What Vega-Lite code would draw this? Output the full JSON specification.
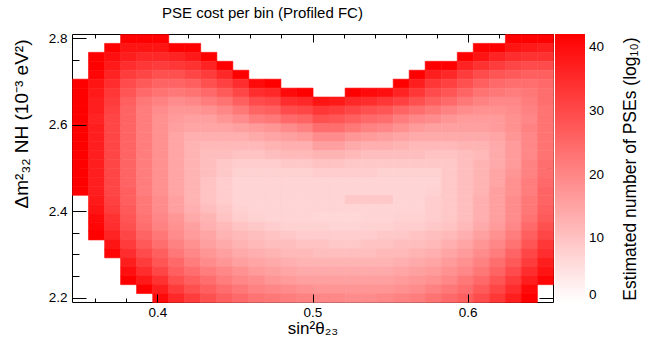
{
"$schema":"https://vega.github.io/schema/vega-lite/v6.json",
"width":481,"height":268,
"autosize":"none",
"padding":{"left":72,"top":34,"right":95,"bottom":42},
"background":"white",
"title":{"text":"PSE cost per bin (Profiled FC)","anchor":"middle","dx":-50,"offset":-2,"baseline":"alphabetic","font":"Liberation Sans","fontSize":15,"fontWeight":"normal","color":"black"},
"config":{"view":{"stroke":"black","strokeWidth":1},"axis":{"domain":false,"grid":false,"tickColor":"black","tickWidth":1,"labelFont":"Liberation Sans","labelFontSize":13.5,"labelColor":"black","titleFont":"Liberation Sans","titleFontSize":17,"titleFontWeight":"normal","titleColor":"black"}},
"layer":[
{"data":{"values":[
{"x":0.376,"y":2.7893,"v":42.1},{"x":0.3863,"y":2.7893,"v":42.1},{"x":0.3967,"y":2.7893,"v":42.1},{"x":0.624,"y":2.7893,"v":42.1},{"x":0.6343,"y":2.7893,"v":42.1},{"x":0.6447,"y":2.7893,"v":42.1},
{"x":0.3657,"y":2.7687,"v":42.1},{"x":0.376,"y":2.7687,"v":38.8},{"x":0.3863,"y":2.7687,"v":38.8},{"x":0.3967,"y":2.7687,"v":38.8},{"x":0.407,"y":2.7687,"v":42.1},{"x":0.4173,"y":2.7687,"v":42.1},{"x":0.6033,"y":2.7687,"v":42.1},{"x":0.6137,"y":2.7687,"v":42.1},{"x":0.624,"y":2.7687,"v":38.8},{"x":0.6343,"y":2.7687,"v":38},{"x":0.6447,"y":2.7687,"v":37.1},
{"x":0.3553,"y":2.748,"v":42.1},{"x":0.3657,"y":2.748,"v":39.6},{"x":0.376,"y":2.748,"v":37.1},{"x":0.3863,"y":2.748,"v":35.5},{"x":0.3967,"y":2.748,"v":35.5},{"x":0.407,"y":2.748,"v":36.3},{"x":0.4173,"y":2.748,"v":38},{"x":0.4277,"y":2.748,"v":42.1},{"x":0.593,"y":2.748,"v":42.1},{"x":0.6033,"y":2.748,"v":38.8},{"x":0.6137,"y":2.748,"v":36.3},{"x":0.624,"y":2.748,"v":34.6},{"x":0.6343,"y":2.748,"v":33.8},{"x":0.6447,"y":2.748,"v":33.8},
{"x":0.3553,"y":2.7273,"v":42.1},{"x":0.3657,"y":2.7273,"v":38},{"x":0.376,"y":2.7273,"v":34.6},{"x":0.3863,"y":2.7273,"v":33},{"x":0.3967,"y":2.7273,"v":32.2},{"x":0.407,"y":2.7273,"v":33},{"x":0.4173,"y":2.7273,"v":33.8},{"x":0.4277,"y":2.7273,"v":36.3},{"x":0.438,"y":2.7273,"v":42.1},{"x":0.5723,"y":2.7273,"v":42.1},{"x":0.5827,"y":2.7273,"v":42.1},{"x":0.593,"y":2.7273,"v":36.3},{"x":0.6033,"y":2.7273,"v":33.8},{"x":0.6137,"y":2.7273,"v":32.2},{"x":0.624,"y":2.7273,"v":30.5},{"x":0.6343,"y":2.7273,"v":29.7},{"x":0.6447,"y":2.7273,"v":29.7},
{"x":0.3553,"y":2.7067,"v":41.2},{"x":0.3657,"y":2.7067,"v":36.3},{"x":0.376,"y":2.7067,"v":32.2},{"x":0.3863,"y":2.7067,"v":30.5},{"x":0.3967,"y":2.7067,"v":28.9},{"x":0.407,"y":2.7067,"v":28.9},{"x":0.4173,"y":2.7067,"v":30.5},{"x":0.4277,"y":2.7067,"v":32.2},{"x":0.438,"y":2.7067,"v":35.5},{"x":0.4483,"y":2.7067,"v":42.1},{"x":0.562,"y":2.7067,"v":42.1},{"x":0.5723,"y":2.7067,"v":37.1},{"x":0.5827,"y":2.7067,"v":35.5},{"x":0.593,"y":2.7067,"v":32.2},{"x":0.6033,"y":2.7067,"v":29.7},{"x":0.6137,"y":2.7067,"v":28},{"x":0.624,"y":2.7067,"v":27.2},{"x":0.6343,"y":2.7067,"v":26.4},{"x":0.6447,"y":2.7067,"v":26.4},
{"x":0.345,"y":2.686,"v":42.1},{"x":0.3553,"y":2.686,"v":38.8},{"x":0.3657,"y":2.686,"v":34.6},{"x":0.376,"y":2.686,"v":29.7},{"x":0.3863,"y":2.686,"v":27.2},{"x":0.3967,"y":2.686,"v":25.6},{"x":0.407,"y":2.686,"v":25.6},{"x":0.4173,"y":2.686,"v":26.4},{"x":0.4277,"y":2.686,"v":28.9},{"x":0.438,"y":2.686,"v":31.3},{"x":0.4483,"y":2.686,"v":34.6},{"x":0.4587,"y":2.686,"v":40.4},{"x":0.469,"y":2.686,"v":42.1},{"x":0.5517,"y":2.686,"v":42.1},{"x":0.562,"y":2.686,"v":37.1},{"x":0.5723,"y":2.686,"v":33},{"x":0.5827,"y":2.686,"v":31.3},{"x":0.593,"y":2.686,"v":28.9},{"x":0.6033,"y":2.686,"v":26.4},{"x":0.6137,"y":2.686,"v":24.7},{"x":0.624,"y":2.686,"v":23.9},{"x":0.6343,"y":2.686,"v":23.9},{"x":0.6447,"y":2.686,"v":24.7},
{"x":0.345,"y":2.6653,"v":42.1},{"x":0.3553,"y":2.6653,"v":38},{"x":0.3657,"y":2.6653,"v":33},{"x":0.376,"y":2.6653,"v":28},{"x":0.3863,"y":2.6653,"v":24.7},{"x":0.3967,"y":2.6653,"v":23.1},{"x":0.407,"y":2.6653,"v":22.3},{"x":0.4173,"y":2.6653,"v":23.1},{"x":0.4277,"y":2.6653,"v":24.7},{"x":0.438,"y":2.6653,"v":27.2},{"x":0.4483,"y":2.6653,"v":30.5},{"x":0.4587,"y":2.6653,"v":34.6},{"x":0.469,"y":2.6653,"v":35.5},{"x":0.4793,"y":2.6653,"v":40.4},{"x":0.4897,"y":2.6653,"v":42.1},{"x":0.5207,"y":2.6653,"v":42.1},{"x":0.531,"y":2.6653,"v":40.4},{"x":0.5413,"y":2.6653,"v":39.6},{"x":0.5517,"y":2.6653,"v":36.3},{"x":0.562,"y":2.6653,"v":33},{"x":0.5723,"y":2.6653,"v":29.7},{"x":0.5827,"y":2.6653,"v":28},{"x":0.593,"y":2.6653,"v":25.6},{"x":0.6033,"y":2.6653,"v":23.1},{"x":0.6137,"y":2.6653,"v":22.3},{"x":0.624,"y":2.6653,"v":21.5},{"x":0.6343,"y":2.6653,"v":22.3},{"x":0.6447,"y":2.6653,"v":23.9},
{"x":0.345,"y":2.6447,"v":42.1},{"x":0.3553,"y":2.6447,"v":37.1},{"x":0.3657,"y":2.6447,"v":32.2},{"x":0.376,"y":2.6447,"v":26.4},{"x":0.3863,"y":2.6447,"v":22.3},{"x":0.3967,"y":2.6447,"v":20.6},{"x":0.407,"y":2.6447,"v":19},{"x":0.4173,"y":2.6447,"v":19.8},{"x":0.4277,"y":2.6447,"v":21.5},{"x":0.438,"y":2.6447,"v":23.1},{"x":0.4483,"y":2.6447,"v":26.4},{"x":0.4587,"y":2.6447,"v":29.7},{"x":0.469,"y":2.6447,"v":30.5},{"x":0.4793,"y":2.6447,"v":34.6},{"x":0.4897,"y":2.6447,"v":35.5},{"x":0.5,"y":2.6447,"v":38.8},{"x":0.5103,"y":2.6447,"v":38},{"x":0.5207,"y":2.6447,"v":35.5},{"x":0.531,"y":2.6447,"v":34.6},{"x":0.5413,"y":2.6447,"v":33},{"x":0.5517,"y":2.6447,"v":31.3},{"x":0.562,"y":2.6447,"v":28.9},{"x":0.5723,"y":2.6447,"v":26.4},{"x":0.5827,"y":2.6447,"v":24.7},{"x":0.593,"y":2.6447,"v":22.3},{"x":0.6033,"y":2.6447,"v":20.6},{"x":0.6137,"y":2.6447,"v":19.8},{"x":0.624,"y":2.6447,"v":19.8},{"x":0.6343,"y":2.6447,"v":21.5},{"x":0.6447,"y":2.6447,"v":23.9},
{"x":0.345,"y":2.624,"v":42.1},{"x":0.3553,"y":2.624,"v":37.1},{"x":0.3657,"y":2.624,"v":31.3},{"x":0.376,"y":2.624,"v":25.6},{"x":0.3863,"y":2.624,"v":21.5},{"x":0.3967,"y":2.624,"v":19},{"x":0.407,"y":2.624,"v":17.3},{"x":0.4173,"y":2.624,"v":17.3},{"x":0.4277,"y":2.624,"v":18.1},{"x":0.438,"y":2.624,"v":19.8},{"x":0.4483,"y":2.624,"v":22.3},{"x":0.4587,"y":2.624,"v":25.6},{"x":0.469,"y":2.624,"v":26.4},{"x":0.4793,"y":2.624,"v":29.7},{"x":0.4897,"y":2.624,"v":30.5},{"x":0.5,"y":2.624,"v":33},{"x":0.5103,"y":2.624,"v":32.2},{"x":0.5207,"y":2.624,"v":30.5},{"x":0.531,"y":2.624,"v":28.9},{"x":0.5413,"y":2.624,"v":28},{"x":0.5517,"y":2.624,"v":25.6},{"x":0.562,"y":2.624,"v":23.9},{"x":0.5723,"y":2.624,"v":22.3},{"x":0.5827,"y":2.624,"v":20.6},{"x":0.593,"y":2.624,"v":19},{"x":0.6033,"y":2.624,"v":18.1},{"x":0.6137,"y":2.624,"v":18.1},{"x":0.624,"y":2.624,"v":19},{"x":0.6343,"y":2.624,"v":20.6},{"x":0.6447,"y":2.624,"v":23.1},
{"x":0.345,"y":2.6033,"v":42.1},{"x":0.3553,"y":2.6033,"v":36.3},{"x":0.3657,"y":2.6033,"v":30.5},{"x":0.376,"y":2.6033,"v":25.6},{"x":0.3863,"y":2.6033,"v":21.5},{"x":0.3967,"y":2.6033,"v":18.1},{"x":0.407,"y":2.6033,"v":16.5},{"x":0.4173,"y":2.6033,"v":15.7},{"x":0.4277,"y":2.6033,"v":15.7},{"x":0.438,"y":2.6033,"v":17.3},{"x":0.4483,"y":2.6033,"v":19},{"x":0.4587,"y":2.6033,"v":21.5},{"x":0.469,"y":2.6033,"v":22.3},{"x":0.4793,"y":2.6033,"v":24.7},{"x":0.4897,"y":2.6033,"v":25.6},{"x":0.5,"y":2.6033,"v":28.9},{"x":0.5103,"y":2.6033,"v":28},{"x":0.5207,"y":2.6033,"v":26.4},{"x":0.531,"y":2.6033,"v":24.7},{"x":0.5413,"y":2.6033,"v":23.9},{"x":0.5517,"y":2.6033,"v":21.5},{"x":0.562,"y":2.6033,"v":19.8},{"x":0.5723,"y":2.6033,"v":19},{"x":0.5827,"y":2.6033,"v":17.3},{"x":0.593,"y":2.6033,"v":16.5},{"x":0.6033,"y":2.6033,"v":16.5},{"x":0.6137,"y":2.6033,"v":16.5},{"x":0.624,"y":2.6033,"v":18.1},{"x":0.6343,"y":2.6033,"v":19.8},{"x":0.6447,"y":2.6033,"v":23.1},
{"x":0.345,"y":2.5827,"v":42.1},{"x":0.3553,"y":2.5827,"v":37.1},{"x":0.3657,"y":2.5827,"v":30.5},{"x":0.376,"y":2.5827,"v":25.6},{"x":0.3863,"y":2.5827,"v":21.5},{"x":0.3967,"y":2.5827,"v":18.1},{"x":0.407,"y":2.5827,"v":15.7},{"x":0.4173,"y":2.5827,"v":14.8},{"x":0.4277,"y":2.5827,"v":14.8},{"x":0.438,"y":2.5827,"v":14.8},{"x":0.4483,"y":2.5827,"v":15.7},{"x":0.4587,"y":2.5827,"v":16.5},{"x":0.469,"y":2.5827,"v":17.3},{"x":0.4793,"y":2.5827,"v":19},{"x":0.4897,"y":2.5827,"v":20.6},{"x":0.5,"y":2.5827,"v":23.9},{"x":0.5103,"y":2.5827,"v":23.9},{"x":0.5207,"y":2.5827,"v":22.3},{"x":0.531,"y":2.5827,"v":20.6},{"x":0.5413,"y":2.5827,"v":19.8},{"x":0.5517,"y":2.5827,"v":18.1},{"x":0.562,"y":2.5827,"v":16.5},{"x":0.5723,"y":2.5827,"v":15.7},{"x":0.5827,"y":2.5827,"v":15.7},{"x":0.593,"y":2.5827,"v":15.7},{"x":0.6033,"y":2.5827,"v":15.7},{"x":0.6137,"y":2.5827,"v":16.5},{"x":0.624,"y":2.5827,"v":18.1},{"x":0.6343,"y":2.5827,"v":20.6},{"x":0.6447,"y":2.5827,"v":23.1},
{"x":0.345,"y":2.562,"v":42.1},{"x":0.3553,"y":2.562,"v":37.1},{"x":0.3657,"y":2.562,"v":30.5},{"x":0.376,"y":2.562,"v":25.6},{"x":0.3863,"y":2.562,"v":21.5},{"x":0.3967,"y":2.562,"v":18.1},{"x":0.407,"y":2.562,"v":14.8},{"x":0.4173,"y":2.562,"v":13.2},{"x":0.4277,"y":2.562,"v":13.2},{"x":0.438,"y":2.562,"v":13.2},{"x":0.4483,"y":2.562,"v":13.2},{"x":0.4587,"y":2.562,"v":14},{"x":0.469,"y":2.562,"v":14.8},{"x":0.4793,"y":2.562,"v":15.7},{"x":0.4897,"y":2.562,"v":16.5},{"x":0.5,"y":2.562,"v":19},{"x":0.5103,"y":2.562,"v":19},{"x":0.5207,"y":2.562,"v":17.3},{"x":0.531,"y":2.562,"v":16.5},{"x":0.5413,"y":2.562,"v":15.7},{"x":0.5517,"y":2.562,"v":14.8},{"x":0.562,"y":2.562,"v":14},{"x":0.5723,"y":2.562,"v":14},{"x":0.5827,"y":2.562,"v":14},{"x":0.593,"y":2.562,"v":14},{"x":0.6033,"y":2.562,"v":14},{"x":0.6137,"y":2.562,"v":14.8},{"x":0.624,"y":2.562,"v":17.3},{"x":0.6343,"y":2.562,"v":19.8},{"x":0.6447,"y":2.562,"v":23.1},
{"x":0.345,"y":2.5413,"v":42.1},{"x":0.3553,"y":2.5413,"v":37.1},{"x":0.3657,"y":2.5413,"v":30.5},{"x":0.376,"y":2.5413,"v":25.6},{"x":0.3863,"y":2.5413,"v":21.5},{"x":0.3967,"y":2.5413,"v":18.1},{"x":0.407,"y":2.5413,"v":14.8},{"x":0.4173,"y":2.5413,"v":12.4},{"x":0.4277,"y":2.5413,"v":11.5},{"x":0.438,"y":2.5413,"v":11.5},{"x":0.4483,"y":2.5413,"v":11.5},{"x":0.4587,"y":2.5413,"v":11.5},{"x":0.469,"y":2.5413,"v":12.4},{"x":0.4793,"y":2.5413,"v":13.2},{"x":0.4897,"y":2.5413,"v":13.2},{"x":0.5,"y":2.5413,"v":15.7},{"x":0.5103,"y":2.5413,"v":15.7},{"x":0.5207,"y":2.5413,"v":14},{"x":0.531,"y":2.5413,"v":13.2},{"x":0.5413,"y":2.5413,"v":13.2},{"x":0.5517,"y":2.5413,"v":12.4},{"x":0.562,"y":2.5413,"v":11.5},{"x":0.5723,"y":2.5413,"v":11.5},{"x":0.5827,"y":2.5413,"v":11.5},{"x":0.593,"y":2.5413,"v":12.4},{"x":0.6033,"y":2.5413,"v":12.4},{"x":0.6137,"y":2.5413,"v":14},{"x":0.624,"y":2.5413,"v":16.5},{"x":0.6343,"y":2.5413,"v":19.8},{"x":0.6447,"y":2.5413,"v":23.1},
{"x":0.345,"y":2.5207,"v":42.1},{"x":0.3553,"y":2.5207,"v":37.1},{"x":0.3657,"y":2.5207,"v":30.5},{"x":0.376,"y":2.5207,"v":25.6},{"x":0.3863,"y":2.5207,"v":21.5},{"x":0.3967,"y":2.5207,"v":18.1},{"x":0.407,"y":2.5207,"v":14.8},{"x":0.4173,"y":2.5207,"v":12.4},{"x":0.4277,"y":2.5207,"v":10.7},{"x":0.438,"y":2.5207,"v":10.7},{"x":0.4483,"y":2.5207,"v":9.9},{"x":0.4587,"y":2.5207,"v":9.9},{"x":0.469,"y":2.5207,"v":10.7},{"x":0.4793,"y":2.5207,"v":11.5},{"x":0.4897,"y":2.5207,"v":11.5},{"x":0.5,"y":2.5207,"v":12.4},{"x":0.5103,"y":2.5207,"v":12.4},{"x":0.5207,"y":2.5207,"v":11.5},{"x":0.531,"y":2.5207,"v":10.7},{"x":0.5413,"y":2.5207,"v":10.7},{"x":0.5517,"y":2.5207,"v":10.7},{"x":0.562,"y":2.5207,"v":10.7},{"x":0.5723,"y":2.5207,"v":9.9},{"x":0.5827,"y":2.5207,"v":9.9},{"x":0.593,"y":2.5207,"v":10.7},{"x":0.6033,"y":2.5207,"v":11.5},{"x":0.6137,"y":2.5207,"v":14},{"x":0.624,"y":2.5207,"v":16.5},{"x":0.6343,"y":2.5207,"v":19.8},{"x":0.6447,"y":2.5207,"v":23.1},
{"x":0.345,"y":2.5,"v":42.1},{"x":0.3553,"y":2.5,"v":37.1},{"x":0.3657,"y":2.5,"v":30.5},{"x":0.376,"y":2.5,"v":25.6},{"x":0.3863,"y":2.5,"v":21.5},{"x":0.3967,"y":2.5,"v":18.1},{"x":0.407,"y":2.5,"v":14.8},{"x":0.4173,"y":2.5,"v":12.4},{"x":0.4277,"y":2.5,"v":10.7},{"x":0.438,"y":2.5,"v":9.1},{"x":0.4483,"y":2.5,"v":8.2},{"x":0.4587,"y":2.5,"v":8.2},{"x":0.469,"y":2.5,"v":8.2},{"x":0.4793,"y":2.5,"v":9.1},{"x":0.4897,"y":2.5,"v":9.1},{"x":0.5,"y":2.5,"v":9.9},{"x":0.5103,"y":2.5,"v":9.9},{"x":0.5207,"y":2.5,"v":9.1},{"x":0.531,"y":2.5,"v":9.1},{"x":0.5413,"y":2.5,"v":9.1},{"x":0.5517,"y":2.5,"v":9.1},{"x":0.562,"y":2.5,"v":9.1},{"x":0.5723,"y":2.5,"v":9.1},{"x":0.5827,"y":2.5,"v":9.1},{"x":0.593,"y":2.5,"v":10.7},{"x":0.6033,"y":2.5,"v":12.4},{"x":0.6137,"y":2.5,"v":14},{"x":0.624,"y":2.5,"v":16.5},{"x":0.6343,"y":2.5,"v":20.6},{"x":0.6447,"y":2.5,"v":23.9},
{"x":0.345,"y":2.4793,"v":42.1},{"x":0.3553,"y":2.4793,"v":37.1},{"x":0.3657,"y":2.4793,"v":30.5},{"x":0.376,"y":2.4793,"v":25.6},{"x":0.3863,"y":2.4793,"v":21.5},{"x":0.3967,"y":2.4793,"v":18.1},{"x":0.407,"y":2.4793,"v":14.8},{"x":0.4173,"y":2.4793,"v":12.4},{"x":0.4277,"y":2.4793,"v":10.7},{"x":0.438,"y":2.4793,"v":9.1},{"x":0.4483,"y":2.4793,"v":7.4},{"x":0.4587,"y":2.4793,"v":7.4},{"x":0.469,"y":2.4793,"v":7.4},{"x":0.4793,"y":2.4793,"v":7.4},{"x":0.4897,"y":2.4793,"v":7.4},{"x":0.5,"y":2.4793,"v":8.2},{"x":0.5103,"y":2.4793,"v":8.2},{"x":0.5207,"y":2.4793,"v":8.2},{"x":0.531,"y":2.4793,"v":8.2},{"x":0.5413,"y":2.4793,"v":7.4},{"x":0.5517,"y":2.4793,"v":7.4},{"x":0.562,"y":2.4793,"v":7.4},{"x":0.5723,"y":2.4793,"v":7.4},{"x":0.5827,"y":2.4793,"v":9.1},{"x":0.593,"y":2.4793,"v":10.7},{"x":0.6033,"y":2.4793,"v":12.4},{"x":0.6137,"y":2.4793,"v":14.8},{"x":0.624,"y":2.4793,"v":17.3},{"x":0.6343,"y":2.4793,"v":20.6},{"x":0.6447,"y":2.4793,"v":23.9},
{"x":0.345,"y":2.4587,"v":42.1},{"x":0.3553,"y":2.4587,"v":37.1},{"x":0.3657,"y":2.4587,"v":30.5},{"x":0.376,"y":2.4587,"v":25.6},{"x":0.3863,"y":2.4587,"v":21.5},{"x":0.3967,"y":2.4587,"v":18.1},{"x":0.407,"y":2.4587,"v":14.8},{"x":0.4173,"y":2.4587,"v":12.4},{"x":0.4277,"y":2.4587,"v":9.9},{"x":0.438,"y":2.4587,"v":8.2},{"x":0.4483,"y":2.4587,"v":7.1},{"x":0.4587,"y":2.4587,"v":7.1},{"x":0.469,"y":2.4587,"v":7.1},{"x":0.4793,"y":2.4587,"v":7.1},{"x":0.4897,"y":2.4587,"v":7.1},{"x":0.5,"y":2.4587,"v":7.1},{"x":0.5103,"y":2.4587,"v":7.1},{"x":0.5207,"y":2.4587,"v":7.1},{"x":0.531,"y":2.4587,"v":7.1},{"x":0.5413,"y":2.4587,"v":7.1},{"x":0.5517,"y":2.4587,"v":7.1},{"x":0.562,"y":2.4587,"v":7.1},{"x":0.5723,"y":2.4587,"v":7.1},{"x":0.5827,"y":2.4587,"v":9.1},{"x":0.593,"y":2.4587,"v":10.7},{"x":0.6033,"y":2.4587,"v":12.4},{"x":0.6137,"y":2.4587,"v":14.8},{"x":0.624,"y":2.4587,"v":18.1},{"x":0.6343,"y":2.4587,"v":21.5},{"x":0.6447,"y":2.4587,"v":24.7},
{"x":0.345,"y":2.438,"v":42.1},{"x":0.3553,"y":2.438,"v":37.1},{"x":0.3657,"y":2.438,"v":30.5},{"x":0.376,"y":2.438,"v":26.4},{"x":0.3863,"y":2.438,"v":21.5},{"x":0.3967,"y":2.438,"v":18.1},{"x":0.407,"y":2.438,"v":14.8},{"x":0.4173,"y":2.438,"v":12.4},{"x":0.4277,"y":2.438,"v":9.9},{"x":0.438,"y":2.438,"v":8.2},{"x":0.4483,"y":2.438,"v":7.1},{"x":0.4587,"y":2.438,"v":7.1},{"x":0.469,"y":2.438,"v":7.1},{"x":0.4793,"y":2.438,"v":7.1},{"x":0.4897,"y":2.438,"v":7.1},{"x":0.5,"y":2.438,"v":7.1},{"x":0.5103,"y":2.438,"v":7.1},{"x":0.5207,"y":2.438,"v":7.1},{"x":0.531,"y":2.438,"v":7.1},{"x":0.5413,"y":2.438,"v":7.1},{"x":0.5517,"y":2.438,"v":7.1},{"x":0.562,"y":2.438,"v":7.1},{"x":0.5723,"y":2.438,"v":7.4},{"x":0.5827,"y":2.438,"v":9.1},{"x":0.593,"y":2.438,"v":10.7},{"x":0.6033,"y":2.438,"v":12.4},{"x":0.6137,"y":2.438,"v":15.7},{"x":0.624,"y":2.438,"v":18.1},{"x":0.6343,"y":2.438,"v":21.5},{"x":0.6447,"y":2.438,"v":25.6},
{"x":0.3553,"y":2.4173,"v":38},{"x":0.3657,"y":2.4173,"v":31.3},{"x":0.376,"y":2.4173,"v":26.4},{"x":0.3863,"y":2.4173,"v":22.3},{"x":0.3967,"y":2.4173,"v":19},{"x":0.407,"y":2.4173,"v":15.7},{"x":0.4173,"y":2.4173,"v":12.4},{"x":0.4277,"y":2.4173,"v":9.9},{"x":0.438,"y":2.4173,"v":8.2},{"x":0.4483,"y":2.4173,"v":7.1},{"x":0.4587,"y":2.4173,"v":7.1},{"x":0.469,"y":2.4173,"v":7.1},{"x":0.4793,"y":2.4173,"v":7.1},{"x":0.4897,"y":2.4173,"v":7.1},{"x":0.5,"y":2.4173,"v":7.1},{"x":0.5103,"y":2.4173,"v":7.1},{"x":0.5207,"y":2.4173,"v":9.1},{"x":0.531,"y":2.4173,"v":9.1},{"x":0.5413,"y":2.4173,"v":9.1},{"x":0.5517,"y":2.4173,"v":7.1},{"x":0.562,"y":2.4173,"v":7.1},{"x":0.5723,"y":2.4173,"v":8.2},{"x":0.5827,"y":2.4173,"v":9.1},{"x":0.593,"y":2.4173,"v":10.7},{"x":0.6033,"y":2.4173,"v":13.2},{"x":0.6137,"y":2.4173,"v":15.7},{"x":0.624,"y":2.4173,"v":19},{"x":0.6343,"y":2.4173,"v":22.3},{"x":0.6447,"y":2.4173,"v":25.6},
{"x":0.3553,"y":2.3967,"v":38.8},{"x":0.3657,"y":2.3967,"v":32.2},{"x":0.376,"y":2.3967,"v":27.2},{"x":0.3863,"y":2.3967,"v":22.3},{"x":0.3967,"y":2.3967,"v":19},{"x":0.407,"y":2.3967,"v":15.7},{"x":0.4173,"y":2.3967,"v":13.2},{"x":0.4277,"y":2.3967,"v":10.7},{"x":0.438,"y":2.3967,"v":9.1},{"x":0.4483,"y":2.3967,"v":7.4},{"x":0.4587,"y":2.3967,"v":7.1},{"x":0.469,"y":2.3967,"v":7.1},{"x":0.4793,"y":2.3967,"v":7.1},{"x":0.4897,"y":2.3967,"v":7.1},{"x":0.5,"y":2.3967,"v":7.1},{"x":0.5103,"y":2.3967,"v":7.1},{"x":0.5207,"y":2.3967,"v":7.1},{"x":0.531,"y":2.3967,"v":7.1},{"x":0.5413,"y":2.3967,"v":7.1},{"x":0.5517,"y":2.3967,"v":7.1},{"x":0.562,"y":2.3967,"v":7.1},{"x":0.5723,"y":2.3967,"v":8.2},{"x":0.5827,"y":2.3967,"v":9.1},{"x":0.593,"y":2.3967,"v":10.7},{"x":0.6033,"y":2.3967,"v":13.2},{"x":0.6137,"y":2.3967,"v":15.7},{"x":0.624,"y":2.3967,"v":19},{"x":0.6343,"y":2.3967,"v":22.3},{"x":0.6447,"y":2.3967,"v":26.4},
{"x":0.3553,"y":2.376,"v":40.4},{"x":0.3657,"y":2.376,"v":33.8},{"x":0.376,"y":2.376,"v":28},{"x":0.3863,"y":2.376,"v":23.1},{"x":0.3967,"y":2.376,"v":19.8},{"x":0.407,"y":2.376,"v":17.3},{"x":0.4173,"y":2.376,"v":14},{"x":0.4277,"y":2.376,"v":12.4},{"x":0.438,"y":2.376,"v":9.9},{"x":0.4483,"y":2.376,"v":8.2},{"x":0.4587,"y":2.376,"v":7.4},{"x":0.469,"y":2.376,"v":7.1},{"x":0.4793,"y":2.376,"v":7.1},{"x":0.4897,"y":2.376,"v":7.1},{"x":0.5,"y":2.376,"v":6.6},{"x":0.5103,"y":2.376,"v":6.6},{"x":0.5207,"y":2.376,"v":6.6},{"x":0.531,"y":2.376,"v":7.1},{"x":0.5413,"y":2.376,"v":7.1},{"x":0.5517,"y":2.376,"v":7.4},{"x":0.562,"y":2.376,"v":7.4},{"x":0.5723,"y":2.376,"v":8.2},{"x":0.5827,"y":2.376,"v":9.1},{"x":0.593,"y":2.376,"v":10.7},{"x":0.6033,"y":2.376,"v":13.2},{"x":0.6137,"y":2.376,"v":15.7},{"x":0.624,"y":2.376,"v":19},{"x":0.6343,"y":2.376,"v":23.1},{"x":0.6447,"y":2.376,"v":27.2},
{"x":0.3553,"y":2.3553,"v":41.2},{"x":0.3657,"y":2.3553,"v":34.6},{"x":0.376,"y":2.3553,"v":28.9},{"x":0.3863,"y":2.3553,"v":23.9},{"x":0.3967,"y":2.3553,"v":20.6},{"x":0.407,"y":2.3553,"v":18.1},{"x":0.4173,"y":2.3553,"v":15.7},{"x":0.4277,"y":2.3553,"v":13.2},{"x":0.438,"y":2.3553,"v":11.5},{"x":0.4483,"y":2.3553,"v":9.9},{"x":0.4587,"y":2.3553,"v":9.1},{"x":0.469,"y":2.3553,"v":8.2},{"x":0.4793,"y":2.3553,"v":7.4},{"x":0.4897,"y":2.3553,"v":7.4},{"x":0.5,"y":2.3553,"v":7.4},{"x":0.5103,"y":2.3553,"v":7.1},{"x":0.5207,"y":2.3553,"v":7.1},{"x":0.531,"y":2.3553,"v":7.4},{"x":0.5413,"y":2.3553,"v":7.4},{"x":0.5517,"y":2.3553,"v":8.2},{"x":0.562,"y":2.3553,"v":8.2},{"x":0.5723,"y":2.3553,"v":9.1},{"x":0.5827,"y":2.3553,"v":9.9},{"x":0.593,"y":2.3553,"v":11.5},{"x":0.6033,"y":2.3553,"v":14},{"x":0.6137,"y":2.3553,"v":16.5},{"x":0.624,"y":2.3553,"v":19.8},{"x":0.6343,"y":2.3553,"v":24.7},{"x":0.6447,"y":2.3553,"v":28.9},
{"x":0.3553,"y":2.3347,"v":42.1},{"x":0.3657,"y":2.3347,"v":36.3},{"x":0.376,"y":2.3347,"v":30.5},{"x":0.3863,"y":2.3347,"v":25.6},{"x":0.3967,"y":2.3347,"v":22.3},{"x":0.407,"y":2.3347,"v":19},{"x":0.4173,"y":2.3347,"v":16.5},{"x":0.4277,"y":2.3347,"v":14.8},{"x":0.438,"y":2.3347,"v":12.4},{"x":0.4483,"y":2.3347,"v":11.5},{"x":0.4587,"y":2.3347,"v":10.7},{"x":0.469,"y":2.3347,"v":9.9},{"x":0.4793,"y":2.3347,"v":9.1},{"x":0.4897,"y":2.3347,"v":8.2},{"x":0.5,"y":2.3347,"v":8.2},{"x":0.5103,"y":2.3347,"v":8.2},{"x":0.5207,"y":2.3347,"v":8.2},{"x":0.531,"y":2.3347,"v":8.2},{"x":0.5413,"y":2.3347,"v":9.1},{"x":0.5517,"y":2.3347,"v":9.1},{"x":0.562,"y":2.3347,"v":9.9},{"x":0.5723,"y":2.3347,"v":10.7},{"x":0.5827,"y":2.3347,"v":11.5},{"x":0.593,"y":2.3347,"v":13.2},{"x":0.6033,"y":2.3347,"v":15.7},{"x":0.6137,"y":2.3347,"v":18.1},{"x":0.624,"y":2.3347,"v":21.5},{"x":0.6343,"y":2.3347,"v":26.4},{"x":0.6447,"y":2.3347,"v":30.5},
{"x":0.3657,"y":2.314,"v":38.8},{"x":0.376,"y":2.314,"v":32.2},{"x":0.3863,"y":2.314,"v":27.2},{"x":0.3967,"y":2.314,"v":23.9},{"x":0.407,"y":2.314,"v":20.6},{"x":0.4173,"y":2.314,"v":18.1},{"x":0.4277,"y":2.314,"v":15.7},{"x":0.438,"y":2.314,"v":14},{"x":0.4483,"y":2.314,"v":12.4},{"x":0.4587,"y":2.314,"v":11.5},{"x":0.469,"y":2.314,"v":10.7},{"x":0.4793,"y":2.314,"v":10.7},{"x":0.4897,"y":2.314,"v":9.9},{"x":0.5,"y":2.314,"v":9.9},{"x":0.5103,"y":2.314,"v":9.1},{"x":0.5207,"y":2.314,"v":9.1},{"x":0.531,"y":2.314,"v":9.9},{"x":0.5413,"y":2.314,"v":9.9},{"x":0.5517,"y":2.314,"v":10.7},{"x":0.562,"y":2.314,"v":10.7},{"x":0.5723,"y":2.314,"v":11.5},{"x":0.5827,"y":2.314,"v":13.2},{"x":0.593,"y":2.314,"v":14.8},{"x":0.6033,"y":2.314,"v":17.3},{"x":0.6137,"y":2.314,"v":19.8},{"x":0.624,"y":2.314,"v":23.1},{"x":0.6343,"y":2.314,"v":28},{"x":0.6447,"y":2.314,"v":33},
{"x":0.3657,"y":2.2933,"v":41.2},{"x":0.376,"y":2.2933,"v":34.6},{"x":0.3863,"y":2.2933,"v":29.7},{"x":0.3967,"y":2.2933,"v":26.4},{"x":0.407,"y":2.2933,"v":22.3},{"x":0.4173,"y":2.2933,"v":19.8},{"x":0.4277,"y":2.2933,"v":17.3},{"x":0.438,"y":2.2933,"v":15.7},{"x":0.4483,"y":2.2933,"v":14},{"x":0.4587,"y":2.2933,"v":13.2},{"x":0.469,"y":2.2933,"v":12.4},{"x":0.4793,"y":2.2933,"v":11.5},{"x":0.4897,"y":2.2933,"v":11.5},{"x":0.5,"y":2.2933,"v":10.7},{"x":0.5103,"y":2.2933,"v":10.7},{"x":0.5207,"y":2.2933,"v":10.7},{"x":0.531,"y":2.2933,"v":10.7},{"x":0.5413,"y":2.2933,"v":11.5},{"x":0.5517,"y":2.2933,"v":11.5},{"x":0.562,"y":2.2933,"v":12.4},{"x":0.5723,"y":2.2933,"v":13.2},{"x":0.5827,"y":2.2933,"v":14.8},{"x":0.593,"y":2.2933,"v":16.5},{"x":0.6033,"y":2.2933,"v":19},{"x":0.6137,"y":2.2933,"v":21.5},{"x":0.624,"y":2.2933,"v":25.6},{"x":0.6343,"y":2.2933,"v":30.5},{"x":0.6447,"y":2.2933,"v":34.6},
{"x":0.376,"y":2.2727,"v":37.1},{"x":0.3863,"y":2.2727,"v":32.2},{"x":0.3967,"y":2.2727,"v":28},{"x":0.407,"y":2.2727,"v":24.7},{"x":0.4173,"y":2.2727,"v":21.5},{"x":0.4277,"y":2.2727,"v":19},{"x":0.438,"y":2.2727,"v":17.3},{"x":0.4483,"y":2.2727,"v":15.7},{"x":0.4587,"y":2.2727,"v":14.8},{"x":0.469,"y":2.2727,"v":14},{"x":0.4793,"y":2.2727,"v":13.2},{"x":0.4897,"y":2.2727,"v":12.4},{"x":0.5,"y":2.2727,"v":12.4},{"x":0.5103,"y":2.2727,"v":12.4},{"x":0.5207,"y":2.2727,"v":12.4},{"x":0.531,"y":2.2727,"v":12.4},{"x":0.5413,"y":2.2727,"v":12.4},{"x":0.5517,"y":2.2727,"v":13.2},{"x":0.562,"y":2.2727,"v":14},{"x":0.5723,"y":2.2727,"v":14.8},{"x":0.5827,"y":2.2727,"v":16.5},{"x":0.593,"y":2.2727,"v":18.1},{"x":0.6033,"y":2.2727,"v":20.6},{"x":0.6137,"y":2.2727,"v":23.9},{"x":0.624,"y":2.2727,"v":27.2},{"x":0.6343,"y":2.2727,"v":32.2},{"x":0.6447,"y":2.2727,"v":37.1},
{"x":0.376,"y":2.252,"v":39.6},{"x":0.3863,"y":2.252,"v":34.6},{"x":0.3967,"y":2.252,"v":30.5},{"x":0.407,"y":2.252,"v":26.4},{"x":0.4173,"y":2.252,"v":23.9},{"x":0.4277,"y":2.252,"v":21.5},{"x":0.438,"y":2.252,"v":19.8},{"x":0.4483,"y":2.252,"v":18.1},{"x":0.4587,"y":2.252,"v":16.5},{"x":0.469,"y":2.252,"v":15.7},{"x":0.4793,"y":2.252,"v":14.8},{"x":0.4897,"y":2.252,"v":14},{"x":0.5,"y":2.252,"v":14},{"x":0.5103,"y":2.252,"v":14},{"x":0.5207,"y":2.252,"v":14},{"x":0.531,"y":2.252,"v":14},{"x":0.5413,"y":2.252,"v":14},{"x":0.5517,"y":2.252,"v":14.8},{"x":0.562,"y":2.252,"v":15.7},{"x":0.5723,"y":2.252,"v":16.5},{"x":0.5827,"y":2.252,"v":18.1},{"x":0.593,"y":2.252,"v":19.8},{"x":0.6033,"y":2.252,"v":22.3},{"x":0.6137,"y":2.252,"v":25.6},{"x":0.624,"y":2.252,"v":29.7},{"x":0.6343,"y":2.252,"v":34.6},{"x":0.6447,"y":2.252,"v":38.8},
{"x":0.376,"y":2.2313,"v":42.1},{"x":0.3863,"y":2.2313,"v":38},{"x":0.3967,"y":2.2313,"v":33.8},{"x":0.407,"y":2.2313,"v":28.9},{"x":0.4173,"y":2.2313,"v":26.4},{"x":0.4277,"y":2.2313,"v":23.9},{"x":0.438,"y":2.2313,"v":21.5},{"x":0.4483,"y":2.2313,"v":19.8},{"x":0.4587,"y":2.2313,"v":19},{"x":0.469,"y":2.2313,"v":17.3},{"x":0.4793,"y":2.2313,"v":16.5},{"x":0.4897,"y":2.2313,"v":15.7},{"x":0.5,"y":2.2313,"v":15.7},{"x":0.5103,"y":2.2313,"v":15.7},{"x":0.5207,"y":2.2313,"v":15.7},{"x":0.531,"y":2.2313,"v":15.7},{"x":0.5413,"y":2.2313,"v":15.7},{"x":0.5517,"y":2.2313,"v":16.5},{"x":0.562,"y":2.2313,"v":17.3},{"x":0.5723,"y":2.2313,"v":18.1},{"x":0.5827,"y":2.2313,"v":19.8},{"x":0.593,"y":2.2313,"v":22.3},{"x":0.6033,"y":2.2313,"v":24.7},{"x":0.6137,"y":2.2313,"v":28},{"x":0.624,"y":2.2313,"v":32.2},{"x":0.6343,"y":2.2313,"v":37.1},{"x":0.6447,"y":2.2313,"v":41.2},
{"x":0.3863,"y":2.2107,"v":42.1},{"x":0.3967,"y":2.2107,"v":37.1},{"x":0.407,"y":2.2107,"v":32.2},{"x":0.4173,"y":2.2107,"v":28.9},{"x":0.4277,"y":2.2107,"v":26.4},{"x":0.438,"y":2.2107,"v":23.9},{"x":0.4483,"y":2.2107,"v":22.3},{"x":0.4587,"y":2.2107,"v":20.6},{"x":0.469,"y":2.2107,"v":19.8},{"x":0.4793,"y":2.2107,"v":19},{"x":0.4897,"y":2.2107,"v":18.1},{"x":0.5,"y":2.2107,"v":17.3},{"x":0.5103,"y":2.2107,"v":17.3},{"x":0.5207,"y":2.2107,"v":17.3},{"x":0.531,"y":2.2107,"v":17.3},{"x":0.5413,"y":2.2107,"v":17.3},{"x":0.5517,"y":2.2107,"v":18.1},{"x":0.562,"y":2.2107,"v":19},{"x":0.5723,"y":2.2107,"v":20.6},{"x":0.5827,"y":2.2107,"v":22.3},{"x":0.593,"y":2.2107,"v":23.9},{"x":0.6033,"y":2.2107,"v":27.2},{"x":0.6137,"y":2.2107,"v":30.5},{"x":0.624,"y":2.2107,"v":34.6},{"x":0.6343,"y":2.2107,"v":40.4},
{"x":0.3967,"y":2.19,"v":40.4},{"x":0.407,"y":2.19,"v":35.5},{"x":0.4173,"y":2.19,"v":32.2},{"x":0.4277,"y":2.19,"v":28.9},{"x":0.438,"y":2.19,"v":26.4},{"x":0.4483,"y":2.19,"v":24.7},{"x":0.4587,"y":2.19,"v":23.1},{"x":0.469,"y":2.19,"v":22.3},{"x":0.4793,"y":2.19,"v":21.5},{"x":0.4897,"y":2.19,"v":20.6},{"x":0.5,"y":2.19,"v":19.8},{"x":0.5103,"y":2.19,"v":19.8},{"x":0.5207,"y":2.19,"v":19},{"x":0.531,"y":2.19,"v":19},{"x":0.5413,"y":2.19,"v":19.8},{"x":0.5517,"y":2.19,"v":20.6},{"x":0.562,"y":2.19,"v":21.5},{"x":0.5723,"y":2.19,"v":23.1},{"x":0.5827,"y":2.19,"v":24.7},{"x":0.593,"y":2.19,"v":26.4},{"x":0.6033,"y":2.19,"v":29.7},{"x":0.6137,"y":2.19,"v":33},{"x":0.624,"y":2.19,"v":37.1},{"x":0.6343,"y":2.19,"v":42.1}
]},
"mark":{"type":"rect","binSpacing":0,"strokeWidth":0.6,"stroke":{"expr":"scale('color', datum.v)"}},
"encoding":{
"x":{"field":"x","type":"quantitative","bin":{"binned":true,"step":0.010333},"scale":{"domain":[0.345,0.655],"nice":false,"zero":false},"axis":{"orient":"bottom","values":[0.4,0.5,0.6],"format":".1f","tickSize":-8,"labelPadding":11,"labelFlush":false,"title":"sin²θ₂₃","titleY":31,"titleBaseline":"alphabetic"}},
"y":{"field":"y","type":"quantitative","bin":{"binned":true,"step":0.020667},"scale":{"domain":[2.19,2.81],"nice":false,"zero":false},"axis":{"orient":"left","values":[2.2,2.4,2.6,2.8],"format":".1f","tickSize":-14,"labelPadding":19,"labelFlush":false,"title":"Δm²₃₂ NH (10⁻³ eV²)","titleFontSize":19,"titleX":-51,"titleY":5,"titleAlign":"right","titleBaseline":"middle","titleAngle":-90}},
"color":{"field":"v","type":"quantitative","scale":{"domain":[0,42.07],"range":["#ffffff","#ff0000"],"clamp":true,"interpolate":"rgb"},
"legend":{"values":[0,10,20,30,40],"title":null,"orient":"none","legendX":483,"legendY":0,"padding":0,"direction":"vertical","gradientLength":268,"gradientThickness":30,"gradientStrokeWidth":0,"labelFont":"Liberation Sans","labelFontSize":13.5,"labelColor":"black","labelOffset":4,"labelBaseline":"middle"}}
}},
{"data":{"values":[{}]},"mark":{"type":"point","opacity":0},
"encoding":{
"x":{"datum":0.5,"type":"quantitative","scale":{"domain":[0.345,0.655],"nice":false,"zero":false},"axis":{"orient":"bottom","values":[0.36,0.38,0.42,0.44,0.46,0.48,0.52,0.54,0.56,0.58,0.62,0.64],"tickSize":-4,"labels":false,"title":null}},
"y":{"datum":2.5,"type":"quantitative","scale":{"domain":[2.19,2.81],"nice":false,"zero":false},"axis":{"orient":"left","values":[2.25,2.3,2.35,2.45,2.5,2.55,2.65,2.7,2.75],"tickSize":-7,"labels":false,"title":null}}}},
{"data":{"values":[{}]},"mark":{"type":"point","opacity":0},
"encoding":{
"x":{"datum":0.5,"type":"quantitative","scale":{"domain":[0.345,0.655],"nice":false,"zero":false},"axis":{"orient":"top","values":[0.4,0.5,0.6],"tickSize":-8,"labels":false,"title":null}},
"y":{"datum":2.5,"type":"quantitative","scale":{"domain":[2.19,2.81],"nice":false,"zero":false},"axis":{"orient":"right","values":[2.2,2.4,2.6,2.8],"tickSize":-14,"labels":false,"title":"Estimated number of PSEs (log₁₀)","titleFontSize":17.5,"titleAngle":270,"titleX":77,"titleY":3,"titleAlign":"right","titleBaseline":"middle","titleLimit":400}}}},
{"data":{"values":[{}]},"mark":{"type":"point","opacity":0},
"encoding":{
"x":{"datum":0.5,"type":"quantitative","scale":{"domain":[0.345,0.655],"nice":false,"zero":false},"axis":{"orient":"top","values":[0.36,0.38,0.42,0.44,0.46,0.48,0.52,0.54,0.56,0.58,0.62,0.64],"tickSize":-4,"labels":false,"title":null}},
"y":{"datum":2.5,"type":"quantitative","scale":{"domain":[2.19,2.81],"nice":false,"zero":false},"axis":{"orient":"right","values":[2.25,2.3,2.35,2.45,2.5,2.55,2.65,2.7,2.75],"tickSize":-7,"labels":false,"title":null}}}}
],
"resolve":{"axis":{"x":"independent","y":"independent"}}
}
